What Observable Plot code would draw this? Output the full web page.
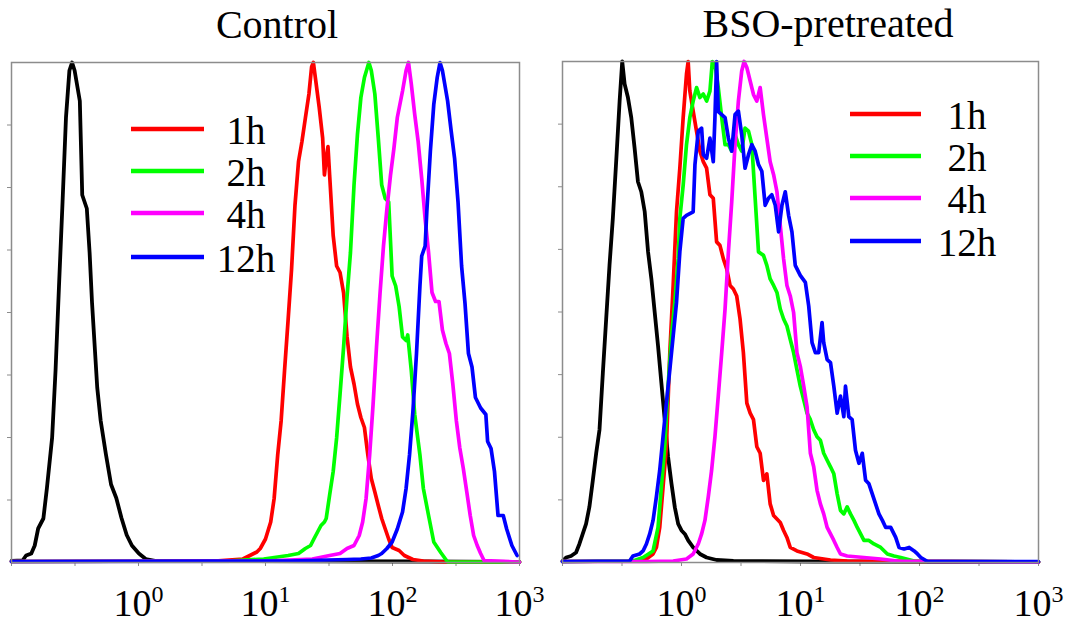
<!DOCTYPE html>
<html>
<head>
<meta charset="utf-8">
<script src="https://cdn.jsdelivr.net/npm/d3@7"></script>
<script src="https://cdn.jsdelivr.net/npm/@observablehq/plot@0.6"></script>
<style>
  html, body { margin: 0; padding: 0; background: #fff; }
  #wrap { position: relative; width: 1073px; height: 624px; overflow: hidden; background: #fff; }
  #wrap > svg { position: absolute; top: 0; }
</style>
</head>
<body>
<div id="wrap"></div>
<script>
// ---- Data: [log10 fluorescence, relative count (% of peak)] ----
const panelTitles = ["Control", "BSO-pretreated"];
const seriesLabels = ["1h", "2h", "4h", "12h"];
const seriesColors = ["#ff0000", "#00ff00", "#ff00ff", "#0000ff"];
const blankColor = "#000000";
const xTickExponents = [-1, -0.5, 0, 0.5, 1, 1.5, 2, 2.5, 3];
const xLabelExponents = [0, 1, 2, 3];
const yTickValues = [12.5, 25, 37.5, 50, 62.5, 75, 87.5];

const ctrlBlank = [[-1,0.3],[-0.913,0.4],[-0.885,1.4],[-0.844,1.8],[-0.817,3.4],[-0.79,6.8],[-0.749,8.8],[-0.721,14.9],[-0.68,25],[-0.653,38.5],[-0.626,55.3],[-0.598,72.1],[-0.571,89],[-0.544,98.4],[-0.523,100],[-0.503,98.4],[-0.462,92.3],[-0.443,73.5],[-0.407,70.8],[-0.385,62],[-0.366,52],[-0.325,35],[-0.298,28.4],[-0.257,21.7],[-0.216,15.6],[-0.175,12.9],[-0.134,8.9],[-0.093,5.5],[-0.052,3.4],[0.003,1.8],[0.057,0.7],[0.14,0.3],[2.2,0.2],[3,0.1]];
const ctrl1h = [[-1,0.2],[0.6,0.3],[0.822,0.7],[0.877,1.4],[0.932,2.1],[0.959,2.8],[1.0,4.7],[1.041,8.1],[1.068,12.8],[1.096,21.5],[1.123,28.3],[1.15,38.4],[1.178,48.5],[1.205,58.6],[1.232,71.4],[1.26,80.2],[1.287,84.2],[1.314,88.9],[1.342,93.7],[1.363,99.1],[1.377,100],[1.396,96.3],[1.423,91],[1.45,84.9],[1.464,77.5],[1.478,80.8],[1.492,83.2],[1.505,77.5],[1.533,65.4],[1.56,59.3],[1.587,58],[1.615,53.9],[1.642,45.2],[1.669,39.1],[1.697,35.7],[1.724,31.7],[1.751,29],[1.779,27],[1.806,21.5],[1.833,16.8],[1.861,14.1],[1.888,11.4],[1.915,8.8],[1.943,6.7],[1.97,4.7],[1.997,3.0],[2.052,2.4],[2.093,1.4],[2.161,0.6],[2.243,0.3],[2.407,0.1],[3,0.1]];
const ctrl2h = [[-1,0.2],[0.7,0.3],[0.986,0.7],[1.096,1.1],[1.178,1.4],[1.26,1.8],[1.314,2.8],[1.355,3.4],[1.383,4.8],[1.41,6.1],[1.437,7.4],[1.464,8.1],[1.478,8.8],[1.505,13.5],[1.533,18.2],[1.56,24.9],[1.587,33.7],[1.615,43.1],[1.642,53.2],[1.669,62],[1.697,75.5],[1.724,85.6],[1.751,93],[1.779,97],[1.814,100],[1.833,98.4],[1.861,93.7],[1.888,84.9],[1.915,75.5],[1.943,72.8],[1.97,72.1],[1.997,57.3],[2.025,55.3],[2.052,51.2],[2.079,45.1],[2.107,44.4],[2.12,45.5],[2.148,38.4],[2.175,29.6],[2.216,21.5],[2.243,14.8],[2.284,9.4],[2.325,4.1],[2.38,2.0],[2.434,0.1],[3,0.1]];
const ctrl4h = [[-1,0.2],[1.0,0.3],[1.369,0.7],[1.505,1.4],[1.587,1.8],[1.642,2.8],[1.697,3.4],[1.738,5.4],[1.765,8.1],[1.792,12.8],[1.82,21.5],[1.847,31.6],[1.874,43.1],[1.902,53.9],[1.929,63.3],[1.956,70.7],[1.984,77.4],[2.011,82.8],[2.038,89],[2.079,94.3],[2.107,98.4],[2.126,100],[2.148,95.7],[2.175,89.6],[2.202,84.2],[2.23,76.8],[2.257,68.7],[2.284,62],[2.311,54],[2.339,52.2],[2.366,52.2],[2.393,46.5],[2.421,43.8],[2.448,41.8],[2.475,35.7],[2.503,28.3],[2.53,22.9],[2.557,18.9],[2.585,14.1],[2.612,9.4],[2.639,5.4],[2.667,3.4],[2.694,1.8],[2.721,0.4],[2.981,0.1],[3,0.1]];
const ctrl12h = [[-1,0.2],[1.2,0.3],[1.642,0.6],[1.751,0.7],[1.833,0.9],[1.888,1.4],[1.915,1.8],[1.956,2.8],[1.997,4.1],[2.038,6.7],[2.079,10.1],[2.107,14.8],[2.134,21.5],[2.161,30.3],[2.189,41.8],[2.216,55.3],[2.23,61.3],[2.257,63.3],[2.27,70.1],[2.298,82.2],[2.325,91.6],[2.352,97],[2.374,100],[2.393,98.4],[2.434,92.3],[2.462,86.3],[2.489,80.8],[2.516,72.1],[2.544,59.3],[2.571,51.8],[2.598,41.8],[2.626,39.1],[2.653,33.0],[2.694,30.9],[2.735,29.6],[2.749,24.2],[2.776,22.8],[2.803,18.2],[2.831,9.4],[2.872,9.4],[2.899,6.7],[2.94,3.4],[2.981,1.4]];

const bsoBlank = [[-1,0.3],[-0.97,1.0],[-0.928,1.3],[-0.886,2.0],[-0.858,3.7],[-0.83,5.7],[-0.802,7.7],[-0.774,11.1],[-0.745,16.4],[-0.717,21.8],[-0.689,26.5],[-0.661,37.8],[-0.633,48.6],[-0.605,59.3],[-0.577,68.7],[-0.549,80.0],[-0.52,92.1],[-0.498,100],[-0.478,95.5],[-0.45,92.8],[-0.422,88.8],[-0.394,82.7],[-0.366,76],[-0.338,74],[-0.309,70],[-0.281,62],[-0.253,56.6],[-0.225,49.9],[-0.197,43.2],[-0.169,35.8],[-0.141,28.5],[-0.113,21.1],[-0.084,15.7],[-0.056,11.0],[-0.028,7.7],[0,6.4],[0.028,5.7],[0.056,4.4],[0.098,3.0],[0.155,1.7],[0.211,1.0],[0.295,0.5],[0.436,0.3],[1.1,0.2],[3,0.1]];
const bso1h = [[-1,0.2],[-0.352,0.3],[-0.295,0.7],[-0.239,1.7],[-0.211,3.0],[-0.183,7.0],[-0.155,15.1],[-0.127,23.1],[-0.098,41.9],[-0.07,55.3],[-0.042,70.0],[-0.014,78.7],[0.014,88.8],[0.042,97.5],[0.056,100],[0.07,94.1],[0.098,90.1],[0.127,86],[0.155,82.1],[0.183,80],[0.211,78.7],[0.239,73.4],[0.267,72.7],[0.295,64],[0.323,63.3],[0.352,60.6],[0.38,58.6],[0.408,55.3],[0.436,54.6],[0.464,53.2],[0.492,48.6],[0.52,41.9],[0.549,31.8],[0.577,29.8],[0.605,28.5],[0.633,23.1],[0.661,21.8],[0.689,16.4],[0.717,17.7],[0.745,11.7],[0.774,9.4],[0.802,8.7],[0.83,8.0],[0.858,6.4],[0.886,5.0],[0.914,3.0],[0.97,2.3],[1.055,1.7],[1.111,1.0],[1.252,0.5],[1.392,0.3],[3,0.1]];
const bso2h = [[-1,0.2],[-0.408,0.3],[-0.323,1.0],[-0.239,2.3],[-0.197,7.0],[-0.169,15.1],[-0.141,23.1],[-0.113,35.2],[-0.084,45.2],[-0.056,51.9],[-0.028,60.6],[-0.014,68.7],[0.014,75.3],[0.042,83.4],[0.056,86.1],[0.07,88.8],[0.098,92.1],[0.127,94.8],[0.155,92.8],[0.183,93.5],[0.211,92.1],[0.239,94.1],[0.259,100],[0.281,99.5],[0.309,94.8],[0.338,88.8],[0.366,83.4],[0.394,83.4],[0.422,82.1],[0.45,85.4],[0.478,83.4],[0.506,82.1],[0.534,86.7],[0.563,86.1],[0.591,83.4],[0.619,72.7],[0.647,62],[0.689,61.3],[0.717,59.3],[0.745,56.6],[0.774,55.3],[0.802,53.9],[0.83,50.6],[0.858,48.6],[0.886,47.2],[0.914,44.5],[0.942,41.9],[0.97,38.5],[0.998,35.2],[1.027,32.5],[1.055,29.8],[1.083,28.5],[1.111,26.5],[1.139,25.1],[1.167,24.4],[1.195,21.8],[1.224,20.4],[1.252,19.1],[1.28,17.7],[1.308,13.7],[1.336,10.4],[1.364,9.7],[1.392,11.1],[1.42,9.7],[1.449,8.4],[1.477,7.0],[1.505,5.7],[1.533,4.4],[1.575,4.4],[1.617,3.7],[1.674,3.0],[1.73,1.7],[1.786,1.3],[1.842,1.0],[1.955,0.3],[3,0.1]];
const bso4h = [[-1,0.2],[-0.295,0.2],[-0.07,0.3],[0.042,0.7],[0.098,1.7],[0.141,3.7],[0.169,5.7],[0.197,8.4],[0.225,13.1],[0.253,18.4],[0.281,25.1],[0.309,33.2],[0.338,41.9],[0.366,50.6],[0.394,61.9],[0.422,72],[0.45,83.4],[0.478,92.1],[0.506,98.1],[0.526,100],[0.549,98.8],[0.577,96.1],[0.605,93.4],[0.633,92.1],[0.661,94.8],[0.689,89.4],[0.717,84.7],[0.745,80],[0.774,77.4],[0.802,74],[0.83,67.3],[0.858,60.6],[0.886,55.3],[0.914,53.2],[0.942,49.9],[0.97,41.9],[0.998,39.2],[1.027,35.2],[1.055,31.1],[1.083,21.8],[1.111,19.1],[1.139,14.4],[1.167,11.7],[1.195,9.7],[1.224,7.0],[1.252,5.7],[1.28,4.4],[1.308,3.0],[1.336,1.7],[1.392,1.3],[1.533,1.0],[1.674,0.7],[1.814,0.3],[3,0.1]];
const bso12h = [[-1,0.2],[-0.436,0.3],[-0.408,1.3],[-0.352,1.7],[-0.323,2.3],[-0.295,3.7],[-0.267,5.7],[-0.239,8.4],[-0.211,13.1],[-0.183,18.4],[-0.155,25.1],[-0.127,31.8],[-0.098,38.5],[-0.07,45.2],[-0.042,51.9],[-0.014,62],[0.014,68.7],[0.042,69.3],[0.098,70],[0.113,79.4],[0.141,86.1],[0.169,86.7],[0.183,81.4],[0.211,80.7],[0.239,84.7],[0.267,80],[0.281,88.8],[0.295,100],[0.309,90],[0.338,89.4],[0.366,88.8],[0.394,84.7],[0.422,82.1],[0.45,89.4],[0.478,90.1],[0.506,85.4],[0.534,78.7],[0.563,81.4],[0.591,83.4],[0.619,82.1],[0.647,79.4],[0.675,78.1],[0.703,71.3],[0.731,72.7],[0.759,73.4],[0.788,71.3],[0.816,66],[0.844,71.3],[0.872,74],[0.9,69.3],[0.928,66],[0.956,59.3],[0.998,57.3],[1.041,55.9],[1.069,51.2],[1.097,43.9],[1.125,41.9],[1.153,41.9],[1.181,47.9],[1.195,43.9],[1.224,40.5],[1.252,39.9],[1.28,35.2],[1.308,29.8],[1.336,33.2],[1.364,29.1],[1.378,35.2],[1.406,29.1],[1.434,28.5],[1.462,22.4],[1.491,19.8],[1.519,21.8],[1.547,16.4],[1.575,15.7],[1.603,13.7],[1.631,11.7],[1.659,9.7],[1.688,8.4],[1.716,7.0],[1.758,7.0],[1.8,5.0],[1.828,3.0],[1.871,2.7],[1.913,3.0],[1.955,2.3],[1.983,1.7],[2.011,1.0],[2.068,0.2],[3,0.2]];

// ---- Drawing ----
const gray = "#8c8c8c";
const FONT = "Liberation Serif";
const wrap = document.getElementById("wrap");

function makePanel(blank, series, layout) {
  const lines = [Plot.line(blank, {x: d => 10 ** d[0], y: d => d[1], stroke: blankColor, strokeWidth: 3.8, strokeLinejoin: "round"})];
  series.forEach((s, i) => {
    lines.push(Plot.line(s, {x: d => 10 ** d[0], y: d => d[1], stroke: seriesColors[i], strokeWidth: 3.7, strokeLinejoin: "round"}));
  });
  const svg = Plot.plot({
    width: layout.width,
    height: 624,
    marginLeft: layout.ml,
    marginRight: layout.mr,
    marginTop: layout.mt,
    marginBottom: layout.mb,
    style: {fontFamily: FONT, background: "transparent", color: "#000", overflow: "visible"},
    x: {type: "log", domain: [0.1, 1000]},
    y: {domain: [0, 100]},
    marks: [
      Plot.axisX({
        ticks: xTickExponents.map(e => 10 ** e),
        tickFormat: d => {
          const e = Math.round(Math.log10(d) * 2) / 2;
          return xLabelExponents.includes(e) ? "10^" + e : "";
        },
        tickSize: 4, tickPadding: 23, fontSize: 38, stroke: gray, label: null
      }),
      Plot.axisY({ticks: yTickValues, tickSize: 4, tickFormat: () => "", stroke: gray, label: null}),
      ...lines,
      Plot.frame({stroke: gray, strokeWidth: 1.5})
    ]
  });
  svg.style.left = layout.left + "px";
  svg.querySelectorAll("text").forEach(t => {
    const s = t.textContent;
    if (s.includes("^")) {
      const [b, e] = s.split("^");
      t.textContent = b;
      const ts = document.createElementNS("http://www.w3.org/2000/svg", "tspan");
      ts.setAttribute("dy", "-14");
      ts.setAttribute("font-size", "24");
      ts.textContent = e;
      t.appendChild(ts);
      t.setAttribute("fill", "#000");
    }
  });
  wrap.appendChild(svg);
}

makePanel(ctrlBlank, [ctrl1h, ctrl2h, ctrl4h, ctrl12h], {left: 0, width: 540, ml: 11, mr: 21, mt: 62, mb: 62});
makePanel(bsoBlank, [bso1h, bso2h, bso4h, bso12h], {left: 540, width: 533, ml: 22, mr: 35, mt: 61, mb: 62});

// ---- Titles and legends (overlay) ----
const ns = "http://www.w3.org/2000/svg";
const ov = document.createElementNS(ns, "svg");
ov.setAttribute("width", 1073);
ov.setAttribute("height", 624);
ov.style.position = "absolute";
ov.style.left = "0px";
ov.style.top = "0px";
ov.style.pointerEvents = "none";
function addText(x, y, str, size) {
  const t = document.createElementNS(ns, "text");
  t.setAttribute("x", x); t.setAttribute("y", y);
  t.setAttribute("text-anchor", "middle");
  t.setAttribute("font-family", FONT);
  t.setAttribute("font-size", size);
  t.setAttribute("fill", "#000");
  t.textContent = str;
  ov.appendChild(t);
}
addText(277, 38, panelTitles[0], 40);
addText(828, 37, panelTitles[1], 40);
const legends = [
  {x1: 131, x2: 204, tx: 246, ys: [129, 171, 213, 257]},
  {x1: 850, x2: 921, tx: 967, ys: [114, 156, 198, 241]}
];
legends.forEach(L => {
  seriesLabels.forEach((lab, i) => {
    const l = document.createElementNS(ns, "line");
    l.setAttribute("x1", L.x1); l.setAttribute("x2", L.x2);
    l.setAttribute("y1", L.ys[i]); l.setAttribute("y2", L.ys[i]);
    l.setAttribute("stroke", seriesColors[i]);
    l.setAttribute("stroke-width", 4.5);
    ov.appendChild(l);
    addText(L.tx, L.ys[i] + 15, lab, 39);
  });
});
wrap.appendChild(ov);
</script>
</body>
</html>
